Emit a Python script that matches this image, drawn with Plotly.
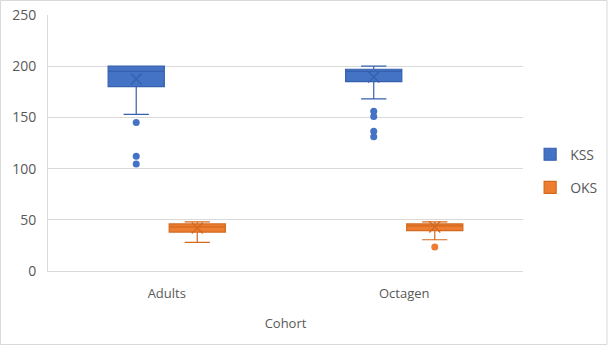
import plotly.graph_objects as go

cohorts = ["Adults", "Octagen"]

kss_q1 = [180, 185]
kss_median = [195, 195]
kss_q3 = [200, 197]
kss_low = [153, 168]
kss_high = [200, 200]
kss_mean = [187.5, 189.5]
kss_out_x = ["Adults", "Adults", "Adults", "Octagen", "Octagen", "Octagen", "Octagen"]
kss_out_y = [145, 112, 104.5, 156, 151, 136.5, 131]

oks_q1 = [38, 39.5]
oks_median = [43, 44]
oks_q3 = [46, 46]
oks_low = [28, 30.5]
oks_high = [48, 48]
oks_mean = [42, 43]
oks_out_x = ["Octagen"]
oks_out_y = [23.5]

BLUE = "#4472C4"
BLUE_LINE = "#3560AE"
ORANGE = "#ED7D31"
ORANGE_LINE = "#D2691F"
GAP = 0.486
GGAP = 0.08

fig = go.Figure()

fig.add_trace(go.Box(
    name="KSS", x=cohorts, q1=kss_q1, median=kss_median, q3=kss_q3,
    lowerfence=kss_low, upperfence=kss_high, legendgroup="KSS",
    fillcolor=BLUE, line=dict(color=BLUE_LINE, width=1.2), whiskerwidth=0.45,
    offsetgroup="KSS", boxpoints=False, hoverinfo="skip"))
fig.add_trace(go.Box(
    name="OKS", x=cohorts, q1=oks_q1, median=oks_median, q3=oks_q3,
    lowerfence=oks_low, upperfence=oks_high, legendgroup="OKS",
    fillcolor=ORANGE, line=dict(color=ORANGE_LINE, width=1.2), whiskerwidth=0.45,
    offsetgroup="OKS", boxpoints=False, hoverinfo="skip"))

# means (X markers)
fig.add_trace(go.Scatter(x=cohorts, y=kss_mean, mode="markers", offsetgroup="KSS",
    marker=dict(symbol="x-thin-open", size=11, color=BLUE_LINE,
                line=dict(color=BLUE_LINE, width=1.3)),
    showlegend=False, hoverinfo="skip"))
fig.add_trace(go.Scatter(x=cohorts, y=oks_mean, mode="markers", offsetgroup="OKS",
    marker=dict(symbol="x-thin-open", size=11, color=ORANGE_LINE,
                line=dict(color=ORANGE_LINE, width=1.3)),
    showlegend=False, hoverinfo="skip"))
# outliers
fig.add_trace(go.Scatter(x=kss_out_x, y=kss_out_y, mode="markers", offsetgroup="KSS",
    marker=dict(symbol="circle", size=7, color=BLUE),
    showlegend=False, hoverinfo="skip"))
fig.add_trace(go.Scatter(x=oks_out_x, y=oks_out_y, mode="markers", offsetgroup="OKS",
    marker=dict(symbol="circle", size=7, color=ORANGE),
    showlegend=False, hoverinfo="skip"))

font_color = "#595959"
fig.update_layout(
    width=608, height=345,
    margin=dict(l=48, r=85, t=15, b=74, autoexpand=False),
    paper_bgcolor="white", plot_bgcolor="white",
    boxmode="group", boxgap=GAP, boxgroupgap=GGAP,
    scattermode="group", scattergap=GAP,
    font=dict(family="Open Sans, Liberation Sans, sans-serif", size=12, color=font_color),
    legend=dict(x=1.015, y=0.39, xanchor="left", yanchor="middle",
                traceorder="grouped",
                font=dict(size=14, color=font_color), tracegroupgap=12,
                itemwidth=30),
    xaxis=dict(type="category", categoryorder="array", categoryarray=cohorts,
               automargin=False,
               showline=True, linecolor="#d9d9d9", linewidth=1, showgrid=False,
               ticks="", ticklabelstandoff=10, tickfont=dict(size=13, color=font_color),
               title=dict(text="Cohort", font=dict(size=13, color=font_color), standoff=18)),
    yaxis=dict(range=[0, 250], tickvals=[0, 50, 100, 150, 200, 250],
               automargin=False,
               showgrid=True, gridcolor="#d9d9d9", gridwidth=1,
               showline=True, linecolor="#d9d9d9", linewidth=1,
               zeroline=False, ticks="", ticklabelstandoff=8,
               tickfont=dict(size=14, color=font_color)),
)

fig.add_shape(type="rect", xref="paper", yref="paper",
              x0=-47.5/475, x1=1 + 84/475, y0=-73.5/256, y1=1 + 14.5/256,
              line=dict(color="#d9d9d9", width=1), fillcolor="rgba(0,0,0,0)", layer="below")

fig.write_html("out.html")
